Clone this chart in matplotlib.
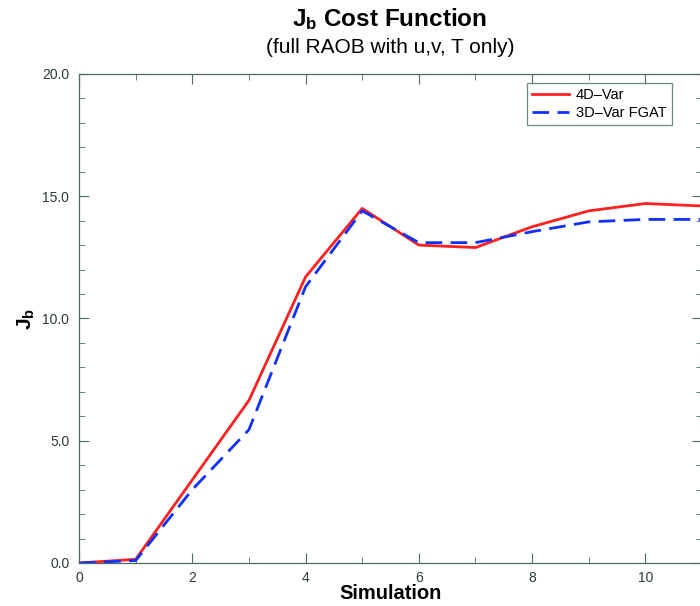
import numpy as np
import matplotlib
matplotlib.use("Agg")
from matplotlib import pyplot as plt
from matplotlib.ticker import MultipleLocator, FormatStrFormatter

# simulation index and cost values
simulation = [0, 1, 2, 3, 4, 5, 6, 7, 8, 9, 10, 11]
jb_4dvar = [0.0, 0.15, 3.4, 6.65, 11.7, 14.5, 13.0, 12.9, 13.75, 14.4, 14.7, 14.6]
jb_3dvar_fgat = [0.0, 0.1, 3.0, 5.45, 11.3, 14.4, 13.1, 13.1, 13.55, 13.95, 14.05, 14.05]

plt.rcParams['font.family'] = ['Liberation Sans', 'DejaVu Sans']
plt.rcParams['mathtext.fontset'] = 'custom'
plt.rcParams['mathtext.rm'] = 'Liberation Sans'
plt.rcParams['mathtext.bf'] = 'Liberation Sans:bold'

fig = plt.figure(figsize=(7.0, 6.06), dpi=100)
ax = fig.add_axes([0.1129, 0.071, 0.8900, 0.807])

ax.plot(simulation, jb_4dvar, color='#ff2020', lw=2.0, label='4D\u2013Var')
ax.plot(simulation, jb_3dvar_fgat, color='#1030ff', lw=2.0, ls=(0, (6, 3)),
        label='3D\u2013Var FGAT')

ax.set_xlim(0, 11)
ax.set_ylim(0, 20)
ax.xaxis.set_major_locator(MultipleLocator(2))
ax.xaxis.set_minor_locator(MultipleLocator(1))
ax.yaxis.set_major_locator(MultipleLocator(5))
ax.yaxis.set_minor_locator(MultipleLocator(1))
ax.yaxis.set_major_formatter(FormatStrFormatter('%.1f'))

for s in ax.spines.values():
    s.set_color('#4a6a6a')
    s.set_linewidth(0.9)
ax.tick_params(which='both', direction='in', top=True, right=True,
               colors='#4a6a6a', labelcolor='#2a3a3a', labelsize=10)
ax.tick_params(which='major', length=7)
ax.tick_params(which='minor', length=4)
ax.tick_params(axis='y', pad=7)
ax.tick_params(axis='x', pad=6)

ax.set_xlabel('Simulation', fontsize=14.5, fontweight='bold', labelpad=-1)
ax.set_ylabel(r'$\mathbf{J_b}$', fontsize=15, labelpad=4)

fig.text(0.557, 0.968, r'$\mathbf{J_b}$ Cost Function', ha='center', va='center',
         fontsize=17.5, fontweight='bold')
fig.text(0.558, 0.921, '(full RAOB with u,v, T only)', ha='center', va='center',
         fontsize=15)

leg = ax.legend(loc='upper left', bbox_to_anchor=(0.719, 0.9816), fontsize=10.5,
                frameon=True, fancybox=False, borderpad=0.35, handlelength=2.5,
                handletextpad=0.5, labelspacing=0.25, borderaxespad=0)
leg.get_frame().set_edgecolor('#4a6a6a')
leg.get_frame().set_linewidth(0.9)

fig.savefig('out.png', dpi=100)
